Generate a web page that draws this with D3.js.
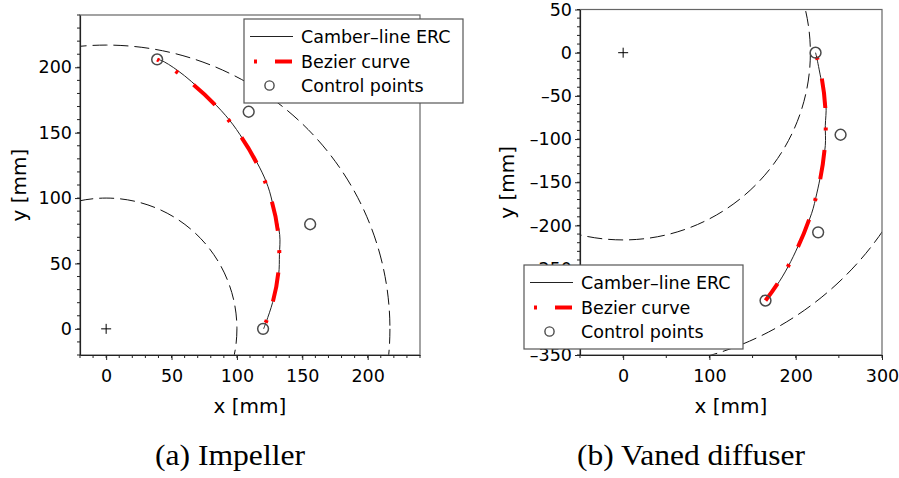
<!DOCTYPE html>
<html>
<head>
<meta charset="utf-8">
<script src="https://cdn.jsdelivr.net/npm/d3@7"></script>
<style>
  html, body { margin: 0; padding: 0; background: #fff; }
  svg { display: block; }
  text { font-family: "DejaVu Sans", sans-serif; fill: #000; }
</style>
</head>
<body>
<svg id="chart" width="899" height="478"></svg>
<script>
// ---------------- DATA ----------------
// (a) Impeller
const impCtrlX = [120, 156, 109, 39];
const impCtrlY = [0, 80, 166, 206];
const impCamberX = [120.4, 122.5, 127.3, 131.9, 132.5, 132.7, 128.1, 123.8, 117.2, 104.7, 94.4, 80.4, 60, 44.4, 39];
const impCamberY = [0, 5.6, 20.2, 41.4, 56.7, 72.1, 92.6, 108.7, 123.7, 144.9, 159.5, 174.8, 193.5, 204.2, 206.3];
const impRadii = [100, 217];
const impXTicks = [0, 50, 100, 150, 200];
const impYTicks = [0, 50, 100, 150, 200];

// (b) Vaned diffuser
const difCtrlX = [223, 252, 226, 165];
const difCtrlY = [0, -95, -208, -287];
const difCamberX = [223, 224.3, 229, 235.1, 234.3, 234.3, 229.3, 224.3, 218.5, 205, 194.2, 181, 169.4, 164.4];
const difCamberY = [0, -5.3, -28.9, -60.5, -84.5, -107.6, -139.6, -163.5, -185.9, -218.8, -241.9, -265, -280.4, -286.2];
const difRadii = [217, 365];
const difXTicks = [0, 100, 200, 300];
const difYTicks = [50, 0, -50, -100, -150, -200, -250, -300, -350];

const legendLabels = ["Camber\u2013line ERC", "Bezier curve", "Control points"];
const captions = ["(a) Impeller", "(b) Vaned diffuser"];
const axisTitles = ["x [mm]", "y [mm]"];

// ---------------- DRAW ----------------
const svg = d3.select("#chart");
const fmt = d => d < 0 ? "\u2013" + Math.abs(d) : String(d);
const RED_DASH = "3,19.5,29.5,19.5";

function panel(cfg) {
  const { id, x, y, xTicks, yTicks, xMinor, yMinor, radii, camX, camY, ctrlX, ctrlY, dashOffset,
          legend, yTitleX, caption, captionX, captionLen } = cfg;
  const [x0, x1] = x.range(), [y0, y1] = y.range();
  const g = svg.append("g");

  g.append("clipPath").attr("id", id).append("rect")
    .attr("x", x0).attr("y", y1).attr("width", x1 - x0).attr("height", y0 - y1);
  const plot = g.append("g").attr("clip-path", `url(#${id})`);

  // dashed reference circles
  plot.selectAll("circle.ref").data(radii).join("circle")
    .attr("class", "ref")
    .attr("cx", x(0)).attr("cy", y(0))
    .attr("r", r => x(r) - x(0))
    .attr("fill", "none").attr("stroke", "#111").attr("stroke-width", 1)
    .attr("stroke-dasharray", "15,6");

  // camber line
  const pts = camX.map((v, i) => [v, camY[i]]);
  plot.append("path")
    .attr("d", d3.line().x(d => x(d[0])).y(d => y(d[1])).curve(d3.curveCatmullRom)(pts))
    .attr("fill", "none").attr("stroke", "#222").attr("stroke-width", 1);

  // bezier curve
  const p = d3.path();
  p.moveTo(x(ctrlX[0]), y(ctrlY[0]));
  p.bezierCurveTo(x(ctrlX[1]), y(ctrlY[1]), x(ctrlX[2]), y(ctrlY[2]), x(ctrlX[3]), y(ctrlY[3]));
  plot.append("path").attr("d", p.toString())
    .attr("fill", "none").attr("stroke", "#ff0000").attr("stroke-width", 4)
    .attr("stroke-dasharray", RED_DASH).attr("stroke-dashoffset", dashOffset);

  // control points
  plot.selectAll("circle.ctrl").data(ctrlX).join("circle")
    .attr("class", "ctrl")
    .attr("cx", d => x(d)).attr("cy", (d, i) => y(ctrlY[i]))
    .attr("r", 5.4).attr("fill", "none").attr("stroke", "#4a4a4a").attr("stroke-width", 1.5);

  // origin marker
  const ox = x(0), oy = y(0);
  plot.append("path").attr("d", `M${ox - 5},${oy}H${ox + 5}M${ox},${oy - 5}V${oy + 5}`)
    .attr("stroke", "#000").attr("stroke-width", 1);

  // frame
  g.append("rect").attr("x", x0).attr("y", y1).attr("width", x1 - x0).attr("height", y0 - y1)
    .attr("fill", "none").attr("stroke", "#666").attr("stroke-width", 1.2);

  // minor ticks
  const minorG = g.append("g").attr("stroke", "#222").attr("stroke-width", 1);
  minorG.selectAll("line.mx").data(xMinor).join("line")
    .attr("x1", d => x(d)).attr("x2", d => x(d)).attr("y1", y0).attr("y2", y0 + 3);
  minorG.selectAll("line.my").data(yMinor).join("line")
    .attr("y1", d => y(d)).attr("y2", d => y(d)).attr("x1", x0).attr("x2", x0 - 3);

  // axes
  const ax = g.append("g").attr("transform", `translate(0,${y0})`)
    .call(d3.axisBottom(x).tickValues(xTicks).tickFormat(fmt).tickSize(5).tickSizeOuter(0).tickPadding(10));
  const ay = g.append("g").attr("transform", `translate(${x0},0)`)
    .call(d3.axisLeft(y).tickValues(yTicks).tickFormat(fmt).tickSize(5).tickSizeOuter(0).tickPadding(3));
  [ax, ay].forEach(a => {
    a.select(".domain").attr("stroke", "#222").attr("stroke-width", 1.2);
    a.selectAll(".tick line").attr("stroke", "#222");
    a.selectAll(".tick text").attr("font-family", "DejaVu Sans").attr("font-size", 17.5).attr("fill", "#000");
  });

  // axis titles
  g.append("text").attr("x", (x0 + x1) / 2).attr("y", 413)
    .attr("text-anchor", "middle").attr("font-size", 20).text(axisTitles[0]);
  g.append("text").attr("transform", `translate(${yTitleX},${(y0 + y1) / 2}) rotate(-90)`)
    .attr("text-anchor", "middle").attr("font-size", 20).text(axisTitles[1]);

  // legend
  const L = g.append("g").attr("transform", `translate(${legend.x},${legend.y})`);
  L.append("rect").attr("width", 219).attr("height", 84)
    .attr("fill", "#fff").attr("stroke", "#555").attr("stroke-width", 1.2);
  const rows = [17.5, 42.5, 66.5];
  L.append("line").attr("x1", 6).attr("x2", 49).attr("y1", rows[0]).attr("y2", rows[0])
    .attr("stroke", "#222").attr("stroke-width", 1);
  L.append("line").attr("x1", 10).attr("x2", 13).attr("y1", rows[1]).attr("y2", rows[1])
    .attr("stroke", "#ff0000").attr("stroke-width", 4);
  L.append("line").attr("x1", 31).attr("x2", 48).attr("y1", rows[1]).attr("y2", rows[1])
    .attr("stroke", "#ff0000").attr("stroke-width", 4);
  L.append("circle").attr("cx", 25.5).attr("cy", rows[2]).attr("r", 4.6)
    .attr("fill", "none").attr("stroke", "#4a4a4a").attr("stroke-width", 1.4);
  L.selectAll("text.lg").data(legendLabels).join("text").attr("class", "lg")
    .attr("x", 57).attr("y", (d, i) => rows[i] + 6.2)
    .attr("font-size", 17.5).text(d => d);

  // caption
  svg.append("text").attr("x", captionX).attr("y", 465).attr("text-anchor", "middle")
    .attr("font-size", 29)
    .attr("textLength", captionLen).attr("lengthAdjust", "spacingAndGlyphs")
    .style("font-family", "'Liberation Serif', serif").text(caption);
}

panel({
  id: "clipA",
  x: d3.scaleLinear().domain([-20, 240]).range([80, 420]),
  y: d3.scaleLinear().domain([-20, 240]).range([355, 15]),
  xTicks: impXTicks, yTicks: impYTicks,
  xMinor: d3.range(-20, 241, 10), yMinor: d3.range(-20, 241, 10),
  radii: impRadii, camX: impCamberX, camY: impCamberY, ctrlX: impCtrlX, ctrlY: impCtrlY,
  dashOffset: -6.5,
  legend: { x: 244, y: 19 }, yTitleX: 25.5,
  caption: captions[0], captionX: 230, captionLen: 150
});

panel({
  id: "clipB",
  x: d3.scaleLinear().domain([-50, 300]).range([580, 882]),
  y: d3.scaleLinear().domain([-350, 50]).range([355, 9.5]),
  xTicks: difXTicks, yTicks: difYTicks,
  xMinor: d3.range(-50, 301, 50), yMinor: d3.range(-350, 51, 10),
  radii: difRadii, camX: difCamberX, camY: difCamberY, ctrlX: difCtrlX, ctrlY: difCtrlY,
  dashOffset: -4.3,
  legend: { x: 524, y: 265 }, yTitleX: 514,
  caption: captions[1], captionX: 691, captionLen: 228
});
</script>
</body>
</html>
